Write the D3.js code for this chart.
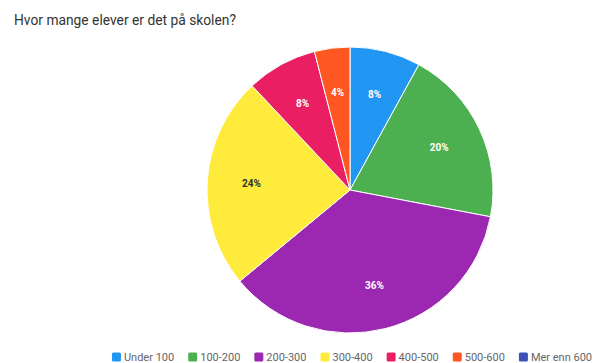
<!DOCTYPE html>
<html>
<head>
<meta charset="utf-8">
<script src="https://cdn.jsdelivr.net/npm/d3@7"></script>
<style>
  html, body { margin: 0; padding: 0; background: #fff; }
  svg { display: block; }
</style>
</head>
<body>
<svg id="chart" width="598" height="363"></svg>
<script>
const title = "Hvor mange elever er det på skolen?";
const categories = ["Under 100", "100-200", "200-300", "300-400", "400-500", "500-600", "Mer enn 600"];
const shares = [8, 20, 36, 24, 8, 4, 0];
const colors = ["#2196F3", "#4CAF50", "#9C27B0", "#FFEB3B", "#E91E63", "#FF5722", "#3F51B5"];
const labelColors = ["#fff", "#fff", "#fff", "#333", "#fff", "#fff", "#fff"];

const svg = d3.select("#chart");
const font = "Roboto, 'Helvetica Neue', Arial, sans-serif";

svg.append("text")
  .attr("x", 14).attr("y", 25)
  .attr("font-family", font)
  .attr("font-size", 13.8)
  .attr("fill", "#333")
  .text(title);

const cx = 350, cy = 190, radius = 143;
const data = categories.map((c, i) => ({ cat: c, value: shares[i], color: colors[i], lc: labelColors[i] }));

const pie = d3.pie().value(d => d.value).sort(null);
const arc = d3.arc().innerRadius(0).outerRadius(radius);
const labelArc = d3.arc().innerRadius(radius * 0.69).outerRadius(radius * 0.69);

const g = svg.append("g").attr("transform", `translate(${cx},${cy})`);
const arcs = pie(data).filter(d => d.data.value > 0);

g.selectAll("path").data(arcs).join("path")
  .attr("d", arc)
  .attr("fill", d => d.data.color)
  .attr("stroke", "#fff")
  .attr("stroke-width", 1);

g.selectAll("text").data(arcs).join("text")
  .attr("transform", d => `translate(${labelArc.centroid(d)})`)
  .attr("text-anchor", "middle")
  .attr("dy", "0.35em")
  .attr("font-family", font)
  .attr("font-size", 10)
  .attr("font-weight", "bold")
  .attr("fill", d => d.data.lc)
  .text(d => d.data.value + "%");

// Legend row along the bottom
const legend = svg.append("g");
const sq = 9, gap = 3, spacing = 14;
let x = 0;
data.forEach(d => {
  const item = legend.append("g").attr("transform", `translate(${x},0)`);
  item.append("rect").attr("x", 0).attr("y", -sq / 2).attr("width", sq).attr("height", sq)
    .attr("rx", 1.5).attr("fill", d.color);
  const t = item.append("text").attr("x", sq + gap).attr("dy", "0.35em")
    .attr("font-family", font).attr("font-size", 11).attr("fill", "#666").text(d.cat);
  x += sq + gap + t.node().getComputedTextLength() + spacing;
});
const total = x - spacing;
legend.attr("transform", `translate(${352 - total / 2},357)`);
</script>
</body>
</html>
